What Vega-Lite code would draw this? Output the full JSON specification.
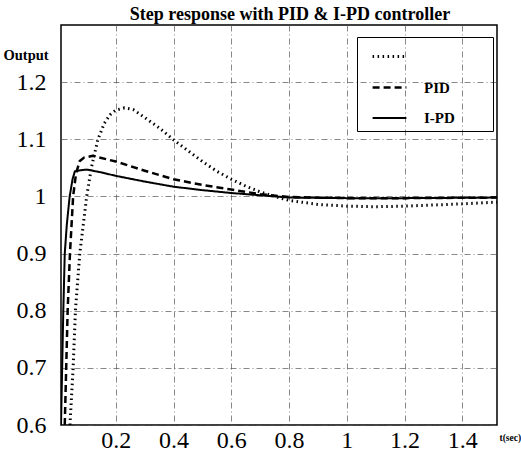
{
  "$schema": "https://vega.github.io/schema/vega-lite/v6.json",
  "autosize": "none",
  "width": 436,
  "height": 400,
  "padding": {"left": 61, "top": 25, "right": 24, "bottom": 26},
  "background": "white",
  "title": {
    "text": "Step response with PID & I-PD controller",
    "font": "Liberation Serif",
    "fontSize": 18,
    "fontWeight": "bold",
    "color": "black",
    "anchor": "middle",
    "baseline": "bottom",
    "offset": 5,
    "dx": 11,
    "dy": 22
  },
  "config": {
    "view": {"stroke": "black", "strokeWidth": 1.5},
    "axis": {
      "labelFont": "Liberation Serif",
      "labelFontSize": 24,
      "labelColor": "black",
      "ticks": false,
      "domain": false,
      "grid": true,
      "gridColor": "#555",
      "gridWidth": 0.7,
      "gridDash": [6, 3, 1, 3],
      "titleFont": "Liberation Serif",
      "titleFontWeight": "bold",
      "titleColor": "black"
    }
  },
  "data": {
    "values": [
      {"t": 0.010, "y": 0.6, "c": "I-PD"},
      {"t": 0.014, "y": 0.7, "c": "I-PD"},
      {"t": 0.018, "y": 0.8, "c": "I-PD"},
      {"t": 0.023, "y": 0.9, "c": "I-PD"},
      {"t": 0.030, "y": 0.95, "c": "I-PD"},
      {"t": 0.040, "y": 1.0, "c": "I-PD"},
      {"t": 0.050, "y": 1.03, "c": "I-PD"},
      {"t": 0.058, "y": 1.044, "c": "I-PD"},
      {"t": 0.080, "y": 1.046, "c": "I-PD"},
      {"t": 0.100, "y": 1.047, "c": "I-PD"},
      {"t": 0.150, "y": 1.042, "c": "I-PD"},
      {"t": 0.200, "y": 1.036, "c": "I-PD"},
      {"t": 0.300, "y": 1.026, "c": "I-PD"},
      {"t": 0.400, "y": 1.017, "c": "I-PD"},
      {"t": 0.500, "y": 1.011, "c": "I-PD"},
      {"t": 0.600, "y": 1.006, "c": "I-PD"},
      {"t": 0.700, "y": 1.002, "c": "I-PD"},
      {"t": 0.800, "y": 0.998, "c": "I-PD"},
      {"t": 1.000, "y": 0.997, "c": "I-PD"},
      {"t": 1.200, "y": 0.997, "c": "I-PD"},
      {"t": 1.520, "y": 0.998, "c": "I-PD"},

      {"t": 0.023, "y": 0.6, "c": "PID"},
      {"t": 0.033, "y": 0.8, "c": "PID"},
      {"t": 0.041, "y": 0.9, "c": "PID"},
      {"t": 0.052, "y": 1.0, "c": "PID"},
      {"t": 0.062, "y": 1.04, "c": "PID"},
      {"t": 0.075, "y": 1.062, "c": "PID"},
      {"t": 0.090, "y": 1.068, "c": "PID"},
      {"t": 0.120, "y": 1.071, "c": "PID"},
      {"t": 0.200, "y": 1.061, "c": "PID"},
      {"t": 0.300, "y": 1.045, "c": "PID"},
      {"t": 0.400, "y": 1.030, "c": "PID"},
      {"t": 0.500, "y": 1.020, "c": "PID"},
      {"t": 0.600, "y": 1.012, "c": "PID"},
      {"t": 0.700, "y": 1.004, "c": "PID"},
      {"t": 0.800, "y": 0.999, "c": "PID"},
      {"t": 1.000, "y": 0.997, "c": "PID"},
      {"t": 1.200, "y": 0.997, "c": "PID"},
      {"t": 1.520, "y": 0.998, "c": "PID"},

      {"t": 0.041, "y": 0.6, "c": "Other"},
      {"t": 0.052, "y": 0.7, "c": "Other"},
      {"t": 0.060, "y": 0.8, "c": "Other"},
      {"t": 0.075, "y": 0.9, "c": "Other"},
      {"t": 0.087, "y": 0.95, "c": "Other"},
      {"t": 0.099, "y": 1.0, "c": "Other"},
      {"t": 0.115, "y": 1.05, "c": "Other"},
      {"t": 0.138, "y": 1.1, "c": "Other"},
      {"t": 0.160, "y": 1.128, "c": "Other"},
      {"t": 0.180, "y": 1.143, "c": "Other"},
      {"t": 0.200, "y": 1.151, "c": "Other"},
      {"t": 0.230, "y": 1.155, "c": "Other"},
      {"t": 0.260, "y": 1.152, "c": "Other"},
      {"t": 0.300, "y": 1.138, "c": "Other"},
      {"t": 0.350, "y": 1.120, "c": "Other"},
      {"t": 0.400, "y": 1.099, "c": "Other"},
      {"t": 0.450, "y": 1.080, "c": "Other"},
      {"t": 0.500, "y": 1.061, "c": "Other"},
      {"t": 0.550, "y": 1.044, "c": "Other"},
      {"t": 0.600, "y": 1.030, "c": "Other"},
      {"t": 0.650, "y": 1.018, "c": "Other"},
      {"t": 0.700, "y": 1.008, "c": "Other"},
      {"t": 0.750, "y": 1.000, "c": "Other"},
      {"t": 0.800, "y": 0.993, "c": "Other"},
      {"t": 0.900, "y": 0.986, "c": "Other"},
      {"t": 1.000, "y": 0.983, "c": "Other"},
      {"t": 1.100, "y": 0.982, "c": "Other"},
      {"t": 1.200, "y": 0.983, "c": "Other"},
      {"t": 1.300, "y": 0.985, "c": "Other"},
      {"t": 1.400, "y": 0.987, "c": "Other"},
      {"t": 1.520, "y": 0.990, "c": "Other"}
    ]
  },
  "mark": {"type": "line", "color": "black", "clip": true},
  "encoding": {
    "x": {
      "field": "t",
      "type": "quantitative",
      "scale": {"domain": [0.01, 1.52], "nice": false, "zero": false},
      "axis": {
        "values": [0.2, 0.4, 0.6, 0.8, 1, 1.2, 1.4],
        "format": "~g",
        "labelPadding": 3,
        "title": "t(sec)",
        "titleFontSize": 9.5,
        "titleX": 438,
        "titleY": 12,
        "titleAlign": "left",
        "titleBaseline": "middle",
        "titleAnchor": null
      }
    },
    "y": {
      "field": "y",
      "type": "quantitative",
      "scale": {"domain": [0.6, 1.3], "nice": false, "zero": false},
      "axis": {
        "values": [0.6, 0.7, 0.8, 0.9, 1, 1.1, 1.2],
        "format": "~g",
        "labelPadding": 15,
        "title": "Output",
        "titleFontSize": 14.5,
        "titleAngle": 0,
        "titleX": -58,
        "titleY": 30,
        "titleAlign": "left",
        "titleBaseline": "middle",
        "titleAnchor": null
      }
    },
    "strokeDash": {
      "field": "c",
      "type": "nominal",
      "scale": {"domain": ["Other", "PID", "I-PD"], "range": [[1.5, 3.5], [7, 4], [1, 0]]},
      "legend": {
        "title": null,
        "orient": "none",
        "legendX": 296,
        "legendY": 12,
        "strokeColor": "black",
        "padding": 5,
        "symbolType": "M-1.3,0H1.3",
        "symbolSize": 676,
        "symbolOffset": 13,
        "symbolStrokeColor": "black",
        "symbolFillColor": "transparent",
        "labelFont": "Liberation Serif",
        "labelFontSize": 15,
        "labelFontWeight": "bold",
        "labelColor": "black",
        "labelOffset": 20,
        "rowPadding": 8,
        "labelExpr": "datum.value == 'Other' ? '' : datum.label + '\u2800\u2800\u2800'"
      }
    },
    "strokeWidth": {
      "field": "c",
      "type": "nominal",
      "scale": {"domain": ["Other", "PID", "I-PD"], "range": [3, 2, 2.2]},
      "legend": null
    }
  }
}
